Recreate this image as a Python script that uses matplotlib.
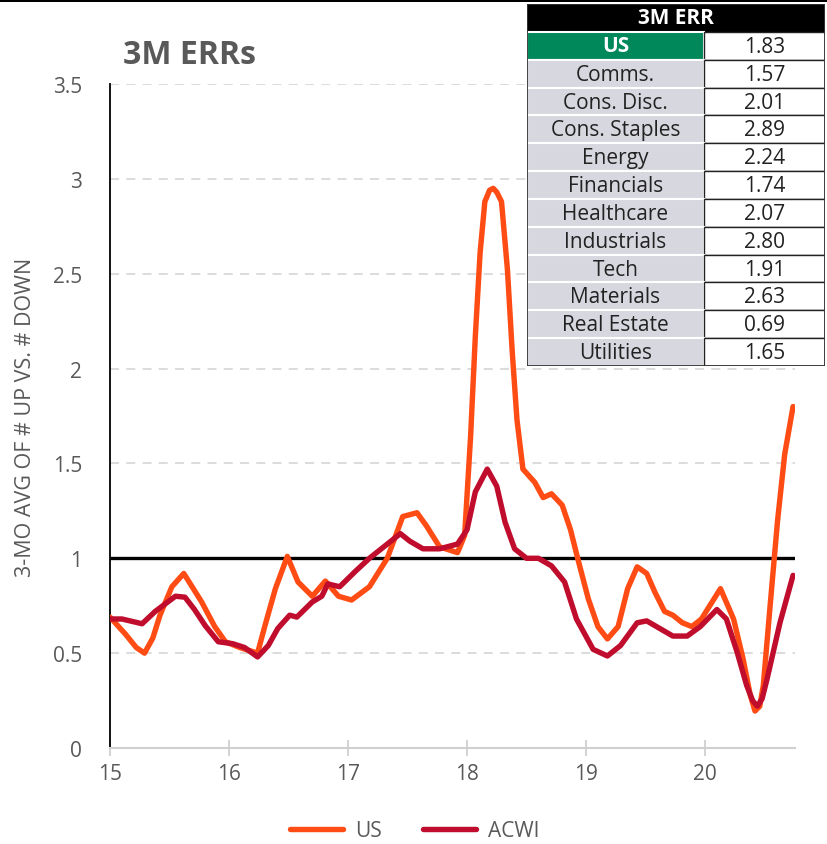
import numpy as np
import matplotlib
matplotlib.use('Agg')
from matplotlib import pyplot as plt
from matplotlib.patches import Rectangle

# data ------------------------------------------------------------
us_x = [15.00, 15.13, 15.22, 15.29, 15.36, 15.42, 15.52, 15.62, 15.77, 15.88, 15.97, 16.09,
        16.24, 16.30, 16.39, 16.49, 16.58, 16.70, 16.81, 16.92, 17.03, 17.18,
        17.33, 17.46, 17.58, 17.66, 17.77, 17.92, 17.98, 18.03, 18.07, 18.11,
        18.15, 18.19, 18.22, 18.25, 18.29, 18.34, 18.38, 18.42, 18.47, 18.57, 18.64, 18.71,
        18.80, 18.87, 18.93, 19.02, 19.10, 19.18, 19.27, 19.35, 19.43, 19.51,
        19.58, 19.66, 19.73, 19.81, 19.89, 19.97, 20.13, 20.24, 20.32, 20.38, 20.42,
        20.46, 20.49, 20.55, 20.61, 20.67, 20.74]
us_y = [0.69, 0.60, 0.53, 0.50, 0.58, 0.70, 0.85, 0.92, 0.77, 0.64, 0.56, 0.53,
        0.50, 0.64, 0.84, 1.01, 0.875, 0.80, 0.88, 0.80, 0.78, 0.85,
        1.00, 1.22, 1.24, 1.17, 1.06, 1.03, 1.12, 1.64, 2.17, 2.61,
        2.88, 2.94, 2.95, 2.93, 2.88, 2.52, 2.09, 1.73, 1.47, 1.40, 1.32, 1.34,
        1.28, 1.15, 1.00, 0.785, 0.64, 0.575, 0.64, 0.84, 0.955, 0.92,
        0.82, 0.72, 0.70, 0.66, 0.64, 0.68, 0.84, 0.68, 0.47, 0.28, 0.195,
        0.22, 0.33, 0.77, 1.20, 1.55, 1.80]

acwi_x = [15.00, 15.10, 15.27, 15.38, 15.55, 15.63, 15.71, 15.80, 15.91, 16.03,
          16.13, 16.24, 16.33, 16.41, 16.51, 16.57, 16.70, 16.78, 16.83, 16.93,
          17.06, 17.18, 17.33, 17.44, 17.52, 17.63, 17.77, 17.92, 18.00, 18.07,
          18.17, 18.25, 18.32, 18.40, 18.50, 18.60, 18.71, 18.82, 18.92, 19.06,
          19.18, 19.29, 19.43, 19.51, 19.62, 19.73, 19.85, 19.96, 20.10, 20.18,
          20.27, 20.35, 20.40, 20.44, 20.48, 20.52, 20.63, 20.74]
acwi_y = [0.68, 0.68, 0.655, 0.72, 0.80, 0.795, 0.73, 0.645, 0.56, 0.55,
          0.53, 0.48, 0.54, 0.63, 0.70, 0.69, 0.77, 0.80, 0.865, 0.85,
          0.93, 1.00, 1.075, 1.13, 1.09, 1.05, 1.05, 1.075, 1.15, 1.35,
          1.47, 1.38, 1.19, 1.05, 1.00, 1.00, 0.96, 0.875, 0.68, 0.52,
          0.485, 0.54, 0.66, 0.67, 0.63, 0.59, 0.59, 0.64, 0.73, 0.68,
          0.505, 0.33, 0.25, 0.22, 0.26, 0.36, 0.66, 0.91]

table_header = '3M ERR'
table_labels = ['US', 'Comms.', 'Cons. Disc.', 'Cons. Staples', 'Energy', 'Financials',
                'Healthcare', 'Industrials', 'Tech', 'Materials', 'Real Estate', 'Utilities']
table_values = ['1.83', '1.57', '2.01', '2.89', '2.24', '1.74',
                '2.07', '2.80', '1.91', '2.63', '0.69', '1.65']

yticks      = [0, 0.5, 1, 1.5, 2, 2.5, 3, 3.5]
yticklabels = ['0', '0.5', '1', '1.5', '2', '2.5', '3', '3.5']
xticks      = [15, 16, 17, 18, 19, 20]

# style -----------------------------------------------------------
plt.rcParams['font.family'] = ['Open Sans', 'DejaVu Sans']
c_us    = '#ff4b14'
c_acwi  = '#c00d2d'
c_text  = '#595959'
c_green = '#00875a'
c_cell  = '#d7d7df'
tfs     = 15

W, H = 828, 845
fig = plt.figure(figsize=(W/100, H/100), dpi=100)

# top black bar
fig.add_artist(Rectangle((0, 1 - 3/H), 1, 3/H, transform=fig.transFigure,
                         facecolor='black', edgecolor='none'))

ax = fig.add_axes([110/W, 1 - 749/H, (795 - 110)/W, (749 - 85)/H])
ax.plot(us_x, us_y, color=c_us, lw=3.9, solid_capstyle='round', solid_joinstyle='round',
        label='US', zorder=3)
ax.plot(acwi_x, acwi_y, color=c_acwi, lw=3.9, solid_capstyle='round', solid_joinstyle='round',
        label='ACWI', zorder=4)
ax.axhline(1, color='black', lw=2.4, zorder=2)

for yv in yticks[1:]:
    if yv != 1:
        ax.axhline(yv, color='#d9d9d9', lw=1.3, ls=(0, (5, 4)), zorder=1)

ax.set_xlim(15, 15 + (795 - 110)/119)
ax.set_ylim(0, 3.5)
ax.set_yticks(yticks)
ax.set_yticklabels(yticklabels, fontsize=15, color=c_text)
ax.set_xticks(xticks)
ax.set_xticklabels([str(x) for x in xticks], fontsize=15, color=c_text)
ax.tick_params(axis='y', length=0, pad=20)
ax.tick_params(axis='x', direction='inout', length=12, width=1.3, color='#d0d0d0', pad=5)
for s in ['top', 'right']:
    ax.spines[s].set_visible(False)
ax.spines['left'].set_color('black')
ax.spines['left'].set_linewidth(1.3)
ax.spines['bottom'].set_color('#d0d0d0')
ax.spines['bottom'].set_linewidth(1.5)
ax.set_ylabel('3-MO AVG OF # UP VS. # DOWN', fontsize=15.5, color=c_text, labelpad=12)

fig.text(123/W, 1 - 56/H, '3M ERRs', fontsize=23, fontweight='bold', color=c_text,
         ha='left', va='center')

# legend
fig.legend(loc='center', bbox_to_anchor=(415/W, 1 - 832/H), ncol=2, frameon=False,
           fontsize=15, labelcolor=c_text, handlelength=2.5, columnspacing=2.0,
           handletextpad=0.6)

# table -----------------------------------------------------------
tx0, tx1, ty0, ty1 = 527, 825, 5, 367
tab = fig.add_axes([tx0/W, 1 - ty1/H, (tx1 - tx0)/W, (ty1 - ty0)/H])
nrow = len(table_labels) + 1
tab.set_xlim(0, tx1 - tx0)
tab.set_ylim(nrow, 0)
tab.axis('off')
split = 704 - tx0
tab.add_patch(Rectangle((0, 0), tx1 - tx0, 1, facecolor='black', edgecolor='black'))
tab.text((tx1 - tx0)/2, 0.5, table_header, color='white', fontsize=15,
         fontweight='bold', ha='center', va='center')
for i, (lab, val) in enumerate(zip(table_labels, table_values)):
    r = i + 1
    if i == 0:
        tab.add_patch(Rectangle((0, r), split, 1, facecolor=c_green, edgecolor='white', lw=1.5))
        tab.text(split/2, r + 0.5, lab, color='white', fontsize=tfs, fontweight='bold',
                 ha='center', va='center')
    else:
        tab.add_patch(Rectangle((0, r), split, 1, facecolor=c_cell, edgecolor='white', lw=1.5))
        tab.text(split/2, r + 0.52, lab, color='#222222', fontsize=tfs, ha='center', va='center')
    tab.add_patch(Rectangle((split, r), tx1 - tx0 - split, 1, facecolor='white',
                            edgecolor='#222222', lw=1))
    tab.text(split + (tx1 - tx0 - split)/2, r + 0.52, val, color='#222222', fontsize=tfs,
             ha='center', va='center')
tab.add_patch(Rectangle((0, 0), tx1 - tx0, nrow, facecolor='none', edgecolor='#333333', lw=1.3))

plt.savefig('out.png', dpi=100)
